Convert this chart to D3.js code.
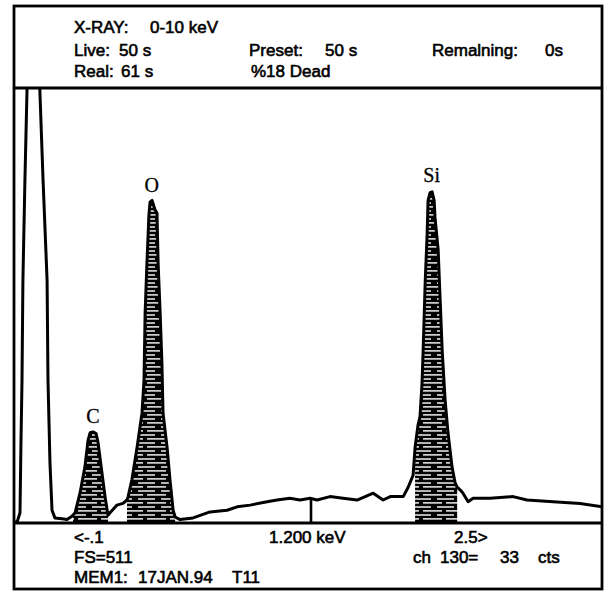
<!DOCTYPE html>
<html><head><meta charset="utf-8">
<script src="https://cdn.jsdelivr.net/npm/d3@7"></script>
<style>body{margin:0;background:#fff} svg{display:block}</style>
</head><body>
<script>
// ---- data (keV, counts) ----
const energy = [-0.122,-0.113,-0.100,-0.096,-0.091,-0.087,-0.078,-0.069,-0.060,-0.042,-0.020,-0.011,0.003,0.021,0.025,0.034,0.043,0.056,0.088,0.110,
  0.132,0.146,0.168,0.190,0.204,0.213,0.226,0.240,0.249,0.266,0.280,0.293,0.302,0.333,0.360,0.378,
  0.383,0.400,0.423,0.445,0.454,0.459,0.467,0.476,0.481,0.490,0.503,0.512,0.517,0.526,0.534,0.539,0.557,0.570,0.584,0.593,0.615,
  0.673,0.749,0.825,0.870,0.928,1.004,1.048,1.106,1.151,1.196,1.227,1.285,1.343,1.406,1.478,1.522,1.554,1.612,1.634,1.656,
  1.665,1.678,1.687,1.696,1.701,1.710,1.719,1.723,1.732,1.741,1.750,1.754,1.768,1.777,1.786,1.799,1.812,1.830,1.844,1.853,1.866,1.879,1.902,1.924,
  2.000,2.103,2.165,2.282,2.402,2.501];
const counts = [2,1,12,89,168,285,403,505,620,700,620,506,403,285,168,70,15,6,5,4,
  8,12,35,66,97,106,107,105,94,59,31,9,12,21,23,27,
  31,51,89,129,168,247,305,362,377,379,368,364,305,247,188,129,89,51,15,7,4,
  6,13,15,19,21,25,27,29,27,29,27,31,29,27,35,27,31,31,42,56,
  89,115,125,164,203,282,341,379,388,389,379,359,321,262,203,145,106,66,47,42,39,35,25,29,
  29,31,27,25,23,19];

const roiNames = ["C", "O", "Si"];
const roiLow   = [0.137, 0.378, 1.665];
const roiHigh  = [0.293, 0.593, 1.853];
const labelKeV    = [0.226, 0.488, 1.739];
const labelCounts = [117, 389, 401];

const cursorKeV = 1.2;
const cursorCounts = 29;
const fullScale = 511;
const rangeKeV = [-0.1, 2.5];

const headerRow1 = ["X-RAY:", "0-10 keV"];
const headerRow2 = ["Live:", "50 s", "Preset:", "50 s", "Remalning:", "0s"];
const headerRow3 = ["Real:", "61 s", "%18 Dead"];
const footerRow1 = ["<-.1", "1.200 keV", "2.5>"];
const footerRow2 = ["FS=511", "ch", "130=", "33", "cts"];
const footerRow3 = ["MEM1:", "17JAN.94", "T11"];

// ---- layout ----
const W = 609, H = 593;
const frame = {l: 14, r: 602, t: 6, b: 589, head: 88, axis: 523};

const svg = d3.select("body").append("svg").attr("width", W).attr("height", H);
const defs = svg.append("defs");

const pat = defs.append("pattern").attr("id", "hatch")
  .attr("patternUnits", "userSpaceOnUse").attr("width", 23).attr("height", 8);
pat.append("rect").attr("width", 23).attr("height", 8).attr("fill", "#000");
pat.append("rect").attr("x", 0).attr("y", 2.3).attr("width", 17).attr("height", 1.4).attr("fill", "#fff");
pat.append("rect").attr("x", 9).attr("y", 6.2).attr("width", 14).attr("height", 1.4).attr("fill", "#fff");
pat.append("rect").attr("x", 0).attr("y", 6.2).attr("width", 5).attr("height", 1.4).attr("fill", "#fff");

defs.append("clipPath").attr("id", "plotclip").append("rect")
  .attr("x", frame.l).attr("y", frame.head).attr("width", frame.r - frame.l).attr("height", frame.axis - frame.head);

const x = d3.scaleLinear().domain(rangeKeV).range([20, frame.r]);
const y = d3.scaleLinear().domain([0, fullScale]).range([frame.axis, frame.head]);

const data = energy.map((e, i) => ({e, c: counts[i]}));

const plot = svg.append("g").attr("clip-path", "url(#plotclip)");

// ROI hatched fills
roiNames.forEach((n, i) => {
  const id = "roi" + i;
  defs.append("clipPath").attr("id", id).append("rect")
    .attr("x", x(roiLow[i])).attr("y", frame.head)
    .attr("width", x(roiHigh[i]) - x(roiLow[i])).attr("height", frame.axis - frame.head);
  plot.append("path").datum(data)
    .attr("clip-path", `url(#${id})`)
    .attr("fill", "url(#hatch)")
    .attr("d", d3.area().x(d => x(d.e)).y0(y(0)).y1(d => y(d.c)));
});

// spectrum outline
plot.append("path").datum(data)
  .attr("fill", "none").attr("stroke", "#000").attr("stroke-width", 3)
  .attr("stroke-linejoin", "round")
  .attr("d", d3.line().x(d => x(d.e)).y(d => y(d.c)));

// cursor
plot.append("line")
  .attr("x1", x(cursorKeV)).attr("x2", x(cursorKeV))
  .attr("y1", y(cursorCounts)).attr("y2", y(0))
  .attr("stroke", "#000").attr("stroke-width", 2.6);

// frame
const fr = svg.append("g").attr("stroke", "#000").attr("stroke-width", 2.8).attr("fill", "none");
fr.append("rect").attr("x", frame.l).attr("y", frame.t).attr("width", frame.r - frame.l).attr("height", frame.b - frame.t);
fr.append("line").attr("x1", frame.l).attr("x2", frame.r).attr("y1", frame.head).attr("y2", frame.head);
fr.append("line").attr("x1", frame.l).attr("x2", frame.r).attr("y1", frame.axis).attr("y2", frame.axis);

// peak labels
svg.append("g").selectAll("text").data(roiNames).join("text")
  .attr("x", (d, i) => x(labelKeV[i])).attr("y", (d, i) => y(labelCounts[i]))
  .attr("text-anchor", "middle")
  .attr("font-family", "'Liberation Serif', 'DejaVu Serif', serif")
  .attr("font-size", 20).attr("fill", "#000")
  .attr("stroke", "#000").attr("stroke-width", 0.3)
  .text(d => d);

// header / footer text
function row(texts, xs, yy) {
  svg.append("g").selectAll("text").data(texts).join("text")
    .attr("x", (d, i) => xs[i]).attr("y", yy)
    .attr("font-family", "'Liberation Sans', Arial, sans-serif")
    .attr("font-size", 17).attr("fill", "#000")
    .attr("stroke", "#000").attr("stroke-width", 0.6)
    .text(d => d);
}
row(headerRow1, [74, 150], 33);
row(headerRow2, [74, 119, 249, 325, 432, 545], 56);
row(headerRow3, [74, 121, 251], 77);
row(footerRow1, [74, 269, 454], 543);
row(footerRow2, [74, 413, 440, 500, 538], 563);
row(footerRow3, [74, 138, 232], 583);
</script>
</body></html>
